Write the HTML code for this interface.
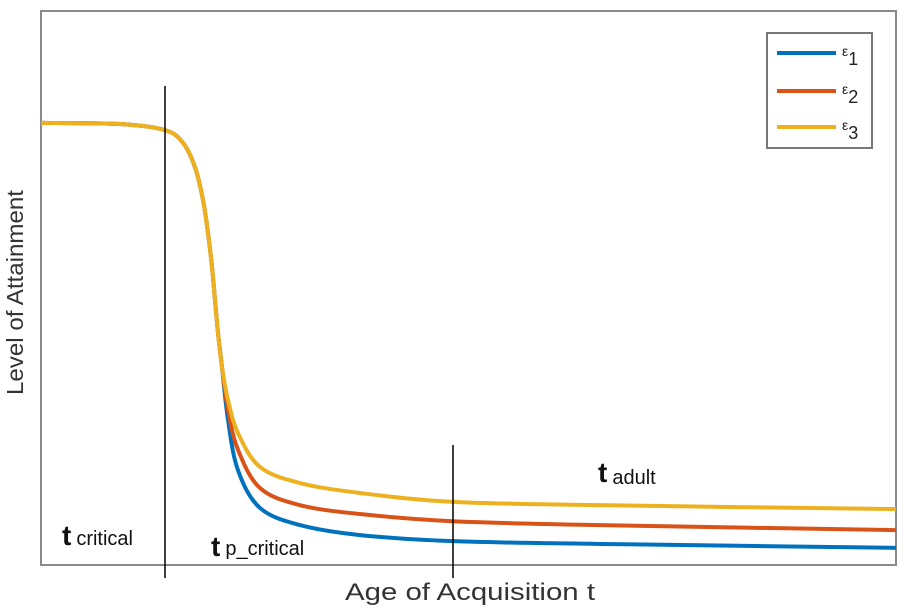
<!DOCTYPE html>
<html><head><meta charset="utf-8"><style>
body{margin:0;background:#fff}
svg{display:block;font-family:"Liberation Sans",sans-serif}
</style></head><body>
<svg width="901" height="608">
<rect x="41" y="11" width="855" height="554" fill="#fff" stroke="#8a8a8a" stroke-width="2"/>
<g id="curves"></g>
<line x1="165" y1="86" x2="165" y2="578" stroke="#000" stroke-width="1.5"/>
<line x1="453" y1="445" x2="453" y2="578" stroke="#000" stroke-width="1.5"/>
<text x="62" y="545" fill="#111"><tspan font-size="28" font-weight="bold">t</tspan><tspan font-size="20" dx="5">critical</tspan></text>
<text x="211" y="556" fill="#111"><tspan font-size="28" font-weight="bold">t</tspan><tspan font-size="20" dx="5" dy="-1">p_critical</tspan></text>
<text x="598" y="482" fill="#111"><tspan font-size="28" font-weight="bold">t</tspan><tspan font-size="20" dx="5" dy="2">adult</tspan></text>
<text x="345" y="600" font-size="24" fill="#333" textLength="250" lengthAdjust="spacingAndGlyphs">Age of Acquisition t</text>
<text transform="translate(23,395) rotate(-90)" font-size="23" fill="#333" textLength="205" lengthAdjust="spacingAndGlyphs">Level of Attainment</text>
<g>
<rect x="767" y="33" width="105" height="115" fill="#fff" stroke="#777" stroke-width="2"/>
<line x1="777" y1="53" x2="836" y2="53" stroke="#0072BD" stroke-width="4"/>
<line x1="777" y1="91" x2="836" y2="91" stroke="#D95319" stroke-width="4"/>
<line x1="777" y1="127" x2="836" y2="127" stroke="#EDB120" stroke-width="4"/>
<text x="842" y="56" font-size="14" fill="#222">ε<tspan font-size="18" dy="9">1</tspan></text>
<text x="842" y="94" font-size="14" fill="#222">ε<tspan font-size="18" dy="9">2</tspan></text>
<text x="842" y="130" font-size="14" fill="#222">ε<tspan font-size="18" dy="9">3</tspan></text>
</g>
</svg>
<script>
const ages = [0,79,124,142,154,162,167,171,174,177,181,187,197,219,259,319,412,559,855];
const eps1 = [0.798,0.796,0.785,0.762,0.718,0.659,0.599,0.538,0.478,0.419,0.357,0.262,0.171,0.103,0.072,0.054,0.043,0.038,0.031];
const eps2 = [0.798,0.796,0.785,0.762,0.718,0.659,0.599,0.538,0.478,0.419,0.357,0.280,0.208,0.139,0.108,0.092,0.079,0.072,0.063];
const eps3 = [0.798,0.796,0.785,0.762,0.718,0.659,0.599,0.538,0.478,0.419,0.357,0.298,0.238,0.177,0.148,0.130,0.114,0.108,0.101];
const seriesNames = ['epsilon-1','epsilon-2','epsilon-3'];
const colors = ['#0072BD','#D95319','#EDB120'];
function xs(a){return 41 + a/855*855;}
function ys(v){return 565 - v*554;}
function path(vals){
  const p = ages.map((a,i)=>[xs(a),ys(vals[i])]);
  let d = 'M'+p[0][0]+','+p[0][1];
  for(let i=0;i<p.length-1;i++){
    const p0=p[Math.max(0,i-1)],p1=p[i],p2=p[i+1],p3=p[Math.min(p.length-1,i+2)];
    const c1=[p1[0]+(p2[0]-p0[0])/6,p1[1]+(p2[1]-p0[1])/6];
    const c2=[p2[0]-(p3[0]-p1[0])/6,p2[1]-(p3[1]-p1[1])/6];
    d+=' C'+c1[0]+','+c1[1]+' '+c2[0]+','+c2[1]+' '+p2[0]+','+p2[1];
  }
  return d;
}
const g = document.getElementById('curves');
[eps1,eps2,eps3].forEach((vals,k)=>{
  const el = document.createElementNS('http://www.w3.org/2000/svg','path');
  el.setAttribute('d', path(vals));
  el.setAttribute('fill','none');
  el.setAttribute('stroke', colors[k]);
  el.setAttribute('stroke-width','4');
  
  
  g.appendChild(el);
});
</script>
</body></html>
